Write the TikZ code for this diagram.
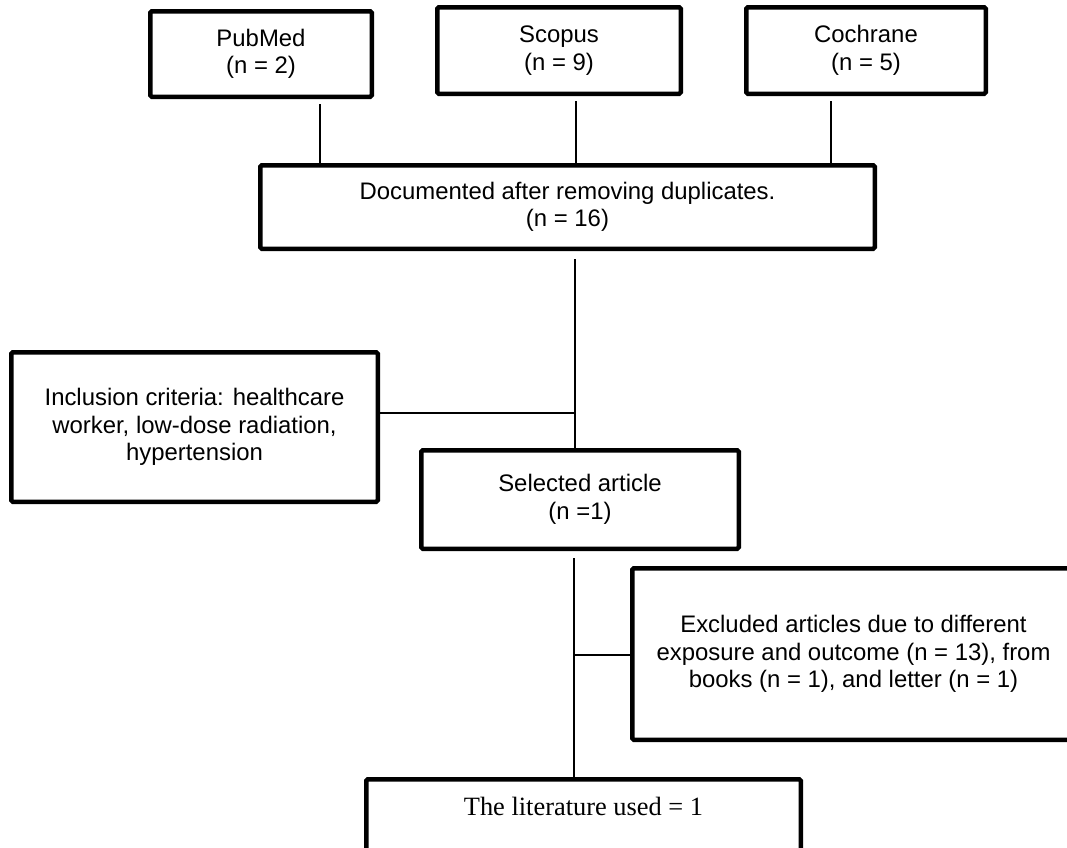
\documentclass[tikz,border=0pt]{standalone}
\usepackage{fontspec}
\setmainfont{Liberation Sans}
\newfontfamily\timesf{Liberation Serif}
\begin{document}
\begin{tikzpicture}[x=1pt,y=-1pt,
  boxstyle/.style={draw=black, line width=4.5pt, rounded corners=1.5pt, fill=white,
    align=center, inner sep=0pt, font=\fontsize{23.9}{27.5}\selectfont},
  conn/.style={draw=black, line width=1.5pt}]
\useasboundingbox (0,0) rectangle (1067,847);
\clip (0,0) rectangle (1067,847);
\node[boxstyle, minimum width=221.5pt, minimum height=85.5pt] (pub) at (261,54) {PubMed\\(n = 2)};
\node[boxstyle, minimum width=243.5pt, minimum height=86.5pt] (sco) at (559,50.5) {Scopus\\(n = 9)};
\node[boxstyle, minimum width=239.5pt, minimum height=86.5pt] (coc) at (866,50.5) {Cochrane\\(n = 5)};
\node[boxstyle, minimum width=614.5pt, minimum height=83.5pt] (doc) at (567.5,207) {Documented after removing duplicates.\\(n = 16)};
\node[boxstyle, minimum width=366.5pt, minimum height=149.5pt] (inc) at (194.5,427) {Inclusion criteria: healthcare\\worker, low-dose radiation,\\hypertension};
\node[boxstyle, minimum width=317.5pt, minimum height=98.5pt] (sel) at (580,499.5) {Selected article\\(n =1)};
\node[boxstyle, minimum width=442.5pt, minimum height=171.5pt] (exc) at (853.5,654) {Excluded articles due to different\\exposure and outcome (n = 13), from\\books (n = 1), and letter (n = 1)};
\node[boxstyle, anchor=base, minimum width=434.5pt, text height=35.75pt, text depth=45pt,
  font=\timesf\fontsize{26.4}{30}\selectfont] (lit) at (583.5,815) {The literature used = 1};
\coordinate (c1) at (320,0);
\coordinate (c2) at (576,0);
\coordinate (c3) at (831,0);
\coordinate (cm) at (575,0);
\coordinate (cl) at (574,0);
\coordinate (bi) at (0,413);
\coordinate (be) at (0,655);
\draw[conn, shorten <=5pt] (pub.south -| c1) -- (doc.north -| c1);
\draw[conn, shorten <=5pt] (sco.south -| c2) -- (doc.north -| c2);
\draw[conn, shorten <=5pt] (coc.south -| c3) -- (doc.north -| c3);
\draw[conn, shorten <=8pt] (doc.south -| cm) -- (sel.north -| cm);
\draw[conn] (inc.east |- bi) -- (cm |- bi);
\draw[conn, shorten <=7pt] (sel.south -| cl) -- (lit.north -| cl);
\draw[conn] (cl |- be) -- (exc.west |- be);
\end{tikzpicture}
\end{document}
